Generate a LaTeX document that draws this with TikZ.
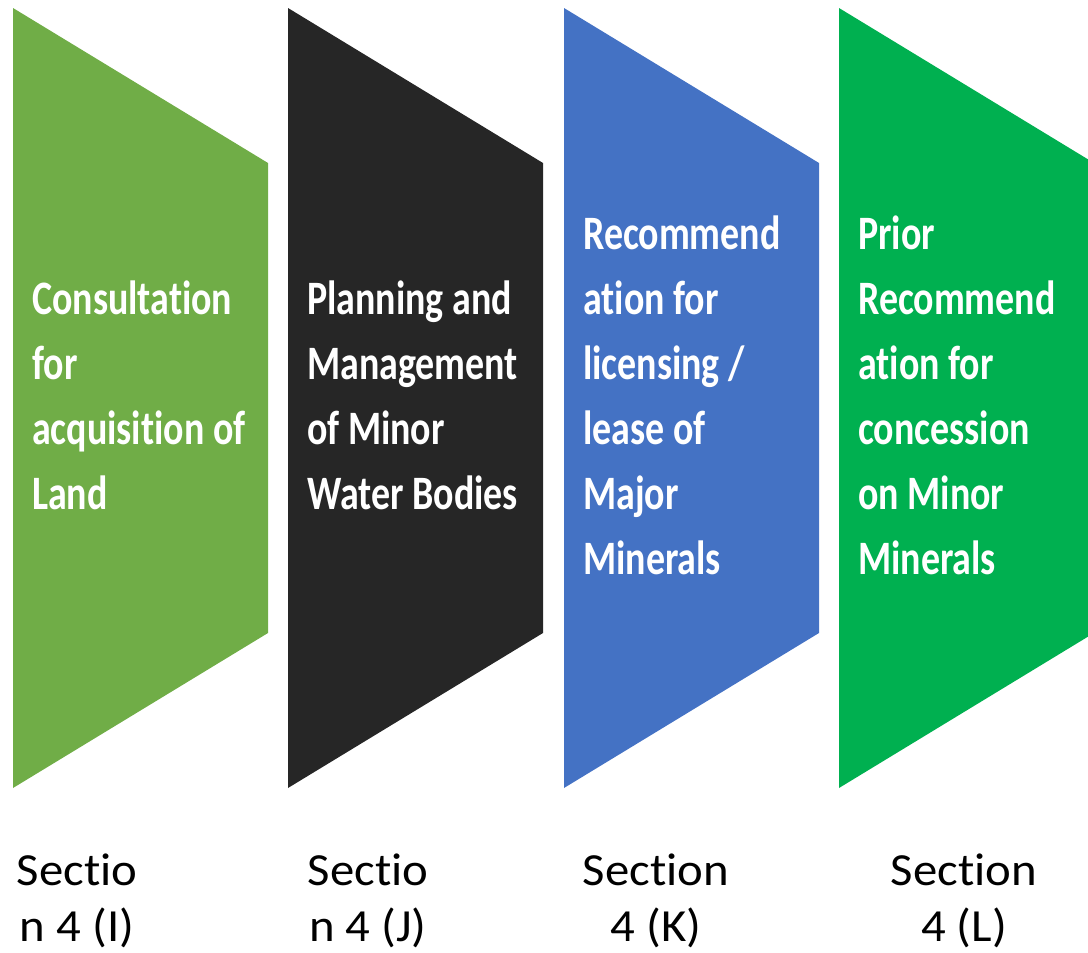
\documentclass[tikz,border=0pt]{standalone}
\usepackage{fontspec}
\setmainfont[Ligatures=NoCommon,FakeStretch=1.06]{Carlito}
\newfontfamily\boxfont[Ligatures=NoCommon,FakeStretch=0.79]{Carlito}
\definecolor{stagegreen}{HTML}{70AD47}
\definecolor{stagedark}{HTML}{262626}
\definecolor{stageblue}{HTML}{4472C4}
\definecolor{stagelime}{HTML}{00B050}
\tikzset{
    stagetext/.style={anchor=west,align=left,text=white,inner sep=0pt,font=\boxfont\bfseries\fontsize{48}{65}\selectfont},
    sectext/.style={align=center,inner sep=0pt,font=\fontsize{46}{56}\selectfont},
}
\newcommand{\stageshape}[2]{\fill[#2] (#1,8) -- ++(255,155) -- ++(0,470) -- ++(-255,155) -- cycle;}

\begin{document}
\begin{tikzpicture}[x=1pt,y=-1pt]
    \useasboundingbox (0,0) rectangle (1088,953);
    \clip (0,0) rectangle (1088,953);

    \stageshape{13}{stagegreen}  % stage shapes
    \stageshape{288}{stagedark}
    \stageshape{564}{stageblue}
    \stageshape{839}{stagelime}

    \node[stagetext] (landtxt) at (32,395) {Consultation\\for\\acquisition of\\Land}; % stage texts
    \node[stagetext] (watertxt) at (307,395) {Planning and\\Management\\of Minor\\Water Bodies};
    \node[stagetext] (majortxt) at (583,395) {Recommend\\ation for\\licensing /\\lease of\\Major\\Minerals};
    \node[stagetext] (minortxt) at (858,395) {Prior\\Recommend\\ation for\\concession\\on Minor\\Minerals};

    \node[sectext] (seci) at (77,901) {Sectio\\n 4 (I)}; % section labels
    \node[sectext] (secj) at (368,901) {Sectio\\n 4 (J)};
    \node[sectext] (seck) at (656,901) {Section\\4 (K)};
    \node[sectext] (secl) at (964,901) {Section\\4 (L)};
\end{tikzpicture}
\end{document}
